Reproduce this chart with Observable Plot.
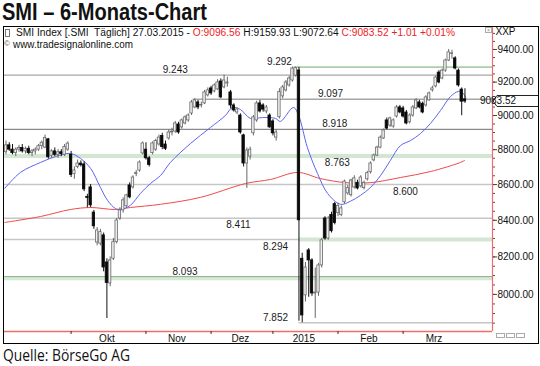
<!DOCTYPE html>
<html><head><meta charset="utf-8">
<script src="https://cdn.jsdelivr.net/npm/d3@7"></script>
<script src="https://cdn.jsdelivr.net/npm/@observablehq/plot@0.6"></script>
<style>
html,body{margin:0;padding:0}
body{width:540px;height:366px;background:#fff;position:relative;overflow:hidden;font-family:"Liberation Sans",Arial,sans-serif;color:#111}
.fit{position:absolute;white-space:nowrap;transform-origin:0 0}
#title{left:2px;top:1px;font-family:"Liberation Sans",Arial,sans-serif;font-weight:700;font-size:23.5px;line-height:23px}
#caption{left:3px;top:347px;font-family:"Open Sans";font-weight:400;font-size:16.5px;line-height:16.5px}
#h1{left:16px;top:27px;font-size:10px;line-height:12px}
#h2{left:13px;top:38.5px;font-size:10px;line-height:12px}
.red{color:#ee1c25}
#chart{position:absolute;left:0;top:26px}
#box{position:absolute;left:3px;top:26px;width:534px;height:316px;border:1px solid #000;pointer-events:none}
#ic1{position:absolute;left:5px;top:29px;width:3px;height:6px;border:1px solid #777}
#ic2{position:absolute;left:4px;top:39px;font-size:8px;line-height:9px;color:#555}
#xbox{position:absolute;left:485px;top:27px;width:5px;height:4px;border:1px solid #aaa;font-size:5px;line-height:4px;color:#888;text-align:center}
#scroll{position:absolute;left:496px;top:333px;font-size:0}
#scroll span{display:inline-block;width:7px;height:3px;border:1px solid #aaa;margin-right:1px}
</style></head>
<body>
<div id="title" class="fit">SMI – 6-Monats-Chart</div>
<div id="chart"></div>
<div id="box"></div>
<div id="ic1"></div>
<div id="ic2">©</div>
<div id="h1" class="fit">SMI Index [.SMI&nbsp; Täglich] 27.03.2015 - <span class="red">O:9096.56</span> H:9159.93 L:9072.64 <span class="red">C:9083.52 +1.01 +0.01%</span></div>
<div id="h2" class="fit">www.tradesignalonline.com</div>
<div id="xbox">×</div>
<div id="scroll"><span></span><span></span><span></span></div>
<div id="caption" class="fit">Quelle: BörseGo AG</div>
<script>
// ---- Daily OHLC, bar index 0 = early Sep 2014 ... 141 = 27.03.2015 ----
const opens = [8785,8825,8800,8780,8800,8810,8790,8805,8780,8790,8800,8820,8812,8860,8765,8790,8770,8785,8770,8800,
 8770,8660,8700,8720,8715,8530,8584,8443,8278,8272,8317,8170,8058,8190,8280,8410,8455,8478,8595,8584,8660,8680,8778,
 8800,8750,8780,8800,8830,8880,8830,8865,8900,8906,8947,8930,8953,8971,9012,9048,9078,9060,9072,9120,
 9162,9144,9156,9204,9168,9192,9138,9060,9018,9000,8883,8720,8760,8895,8971,9072,9060,9024,9000,
 8965,8870,8990,9114,9150,9180,9210,9240,9271,8190,7995,8235,8181,8005,8010,8154,8410,8300,8430,8490,
 8440,8430,8500,8550,8540,8584,8610,8590,8580,8630,8670,8738,8766,8812,8865,8971,8940,8935,8994,9048,
 9042,9018,8960,9000,9042,9078,9070,9060,9090,9150,9174,9258,9222,9270,9332,9372,9345,9270,9155,9096.56];
const highs = [8850,8840,8830,8810,8825,8830,8815,8820,8800,8810,8830,8850,8885,8865,8800,8810,8800,8800,8830,8845,
 8790,8700,8740,8735,8730,8545,8600,8455,8360,8350,8330,8190,8200,8300,8410,8470,8525,8545,8610,8650,8680,8735,8845,
 8840,8760,8845,8860,8885,8895,8850,8915,8925,8965,8960,8980,8998,9010,9090,9100,9090,9080,9150,9165,
 9175,9190,9215,9220,9243,9230,9150,9070,9045,9010,8890,8810,8815,9000,9085,9090,9070,9060,9010,
 8975,8915,9160,9180,9210,9235,9292,9292,9290,8220,8170,8245,8190,8140,8165,8300,8420,8420,8445,8500,
 8495,8480,8625,8595,8630,8650,8625,8650,8620,8675,8730,8775,8820,8880,8920,8985,8990,8980,9060,9060,
 9055,9030,9010,9060,9100,9090,9080,9118,9140,9175,9235,9270,9280,9340,9400,9395,9355,9280,9165,9159.93];
const lows = [8770,8790,8770,8760,8785,8780,8775,8770,8760,8770,8790,8800,8805,8745,8750,8760,8750,8760,8760,8790,
 8640,8630,8690,8700,8560,8470,8470,8350,8260,8260,8120,7874,8040,8180,8270,8400,8440,8470,8520,8575,8645,8670,8770,
 8740,8700,8770,8790,8820,8800,8795,8855,8880,8895,8890,8920,8945,8960,9000,9040,9035,9045,9065,9110,
 9120,9135,9150,9100,9160,9170,9040,9020,9005,8890,8700,8578,8740,8880,8960,9015,9020,9010,8925,
 8880,8850,8980,9100,9140,9170,9200,9230,7860,7852,7960,7985,7990,7875,7990,8140,8290,8290,8330,8375,
 8420,8420,8490,8540,8530,8575,8570,8580,8570,8620,8660,8730,8760,8805,8860,8915,8930,8925,8985,9010,
 8985,8945,8950,8990,9035,9040,9010,9050,9085,9140,9165,9190,9215,9260,9325,9340,9275,9170,8999,9072.64];
const closes = [8825,8800,8780,8800,8810,8790,8805,8780,8790,8800,8820,8840,8868,8756,8790,8770,8785,8775,8815,8835,
 8655,8680,8720,8710,8573,8525,8483,8367,8344,8335,8143,8060,8181,8280,8399,8455,8511,8539,8528,8640,8665,8726,8836,
 8750,8712,8836,8850,8870,8815,8805,8900,8905,8953,8900,8971,8989,9000,9078,9090,9048,9062,9138,9150,
 9132,9180,9198,9108,9210,9198,9060,9030,9036,8900,8720,8795,8800,8989,9072,9024,9035,9048,8930,
 8895,8900,9140,9168,9198,9222,9283,9285,8400,7890,8143,8181,8005,8010,8154,8290,8300,8410,8340,8385,
 8480,8466,8617,8580,8623,8635,8578,8640,8610,8665,8720,8766,8812,8870,8912,8923,8983,8971,9048,9018,
 8994,8953,9000,9048,9090,9048,9018,9108,9132,9162,9228,9198,9270,9332,9382,9376,9283,9180,9082.51,9083.52];

// ---- Moving averages (bar index, value) ----
const maShortBars = [-0.4,4.45,10.6,15.2,19.8,22.9,26.0,29.0,31.2,33.6,35.2,38.2,41.3,44.4,47.5,50.5,56.7,62.8,67.4,69.6,72.0,75.1,78.8,82.8,84.3,88.3,89.9,92.6,95.7,98.8,102.8,105.8,108.9,112.0,115.1,118.1,121.2,124.3,127.4,130.4,133.5,136.6,139.0,140.2,141.2];
const maShortValues = [8578,8669,8726,8760,8778,8749,8692,8584,8511,8466,8460,8483,8550,8606,8652,8726,8836,8929,9000,9048,9036,8983,8988,8983,8965,9048,9000,8812,8663,8550,8489,8506,8539,8584,8652,8738,8824,8853,8895,8953,9030,9114,9144,9138,9108];
const maLongBars = [-0.4,10.6,19.8,26.0,33.6,38.2,47.5,59.8,73.6,81.3,89.6,96.6,104.3,112.0,121.2,130.4,139.6,140.9];
const maLongValues = [8388,8421,8460,8471,8460,8471,8489,8528,8606,8629,8669,8634,8611,8611,8640,8674,8726,8738];

// ---- Horizontal levels ----
const levelValues    = [9292, 9243, 9097, 8918, 8763, 8600, 8411, 8294, 8294, 8093, 7852];
const levelStartBars = [88.5, null, 57.5, null, null, null, null, null, 90,   null, 90];
const levelKinds     = ["green","gray","gray","dark","zone","light","light","light","zone","strong","light"];
const labelValues = [9292, 9243, 9097, 8918, 8763, 8600, 8411, 8294, 8093, 7852];
const labelBars   = [84, 52, 99.7, 101, 101.8, 122.7, 71.4, 82.8, 55, 82.8];
const labelSides  = ["above","above","above","above","below","below","below","below","above","above"];

// ---- Axes ----
const priceTicks = [8000, 8200, 8400, 8600, 8800, 9000, 9200, 9400];
const minorStep = 50;
const monthStartBars = [20, 43, 63, 82, 102, 122];
const monthLabels = ["Okt", "Nov", "Dez", "2015", "Feb", "Mrz"];

// ---- build ----
const n = opens.length;
const candles = opens.map((o, i) => ({i, open: o, high: highs[i], low: lows[i], close: closes[i]}));
const isUp = d => d.close >= d.open;
const maShort = maShortBars.map((b, k) => ({i: b, v: maShortValues[k]}));
const maLong = maLongBars.map((b, k) => ({i: b, v: maLongValues[k]}));
const xDom = [-0.46, 149.46];
const yDom = [7807, 9537];
const levels = levelValues.map((v, k) => ({v, start: levelStartBars[k] ?? xDom[0], kind: levelKinds[k]}));
const kindColor = {green: "#a9cfa9", gray: "#a6a6a6", dark: "#8a8a8a", zone: "#d2e6d2", light: "#c6c6c6", strong: "#6f9f6f"};
const kindWidth = {green: 1.8, gray: 1.3, dark: 1.2, zone: 4, light: 1.5, strong: 1.3};
const deLocale = d3.formatLocale({decimal: ",", thousands: ".", grouping: [3], currency: ["", ""]});
const fmtLevel = deLocale.format(",");
const labels = labelValues.map((v, k) => ({v, i: labelBars[k], side: labelSides[k], text: fmtLevel(v)}));
const bounds = [...monthStartBars, n];
const months = monthLabels.map((t, k) => ({t, i: (bounds[k] + bounds[k + 1] - 1) / 2}));
const minorTicks = d3.range(Math.ceil(yDom[0] / minorStep) * minorStep, yDom[1], minorStep);
const last = candles[n - 1];

function priceTag(index, scales, values, dims) {
  const y = scales.y(last.close);
  const x0 = dims.width - dims.marginRight + 1;
  const g = d3.create("svg:g");
  g.append("path")
    .attr("d", `M${x0},${y}L${x0 + 4},${y - 5.5}H${x0 + 45}V${y + 5.5}H${x0 + 4}Z`)
    .attr("fill", "#fff").attr("stroke", "none");
  g.append("path")
    .attr("d", `M${x0},${y}L${x0 + 4},${y - 5.5}H${x0 + 45}M${x0},${y}L${x0 + 4},${y + 5.5}H${x0 + 45}`)
    .attr("fill", "none").attr("stroke", "#222").attr("stroke-width", 1);
  g.append("text").attr("x", x0 + 5).attr("y", y).attr("dy", "0.35em")
    .attr("font-size", 10).attr("fill", "#111").text(last.close.toFixed(2));
  return g.node();
}

const chart = Plot.plot({
  width: 540, height: 318,
  marginLeft: 4, marginRight: 48, marginTop: 1, marginBottom: 13,
  style: {fontFamily: "'Liberation Sans', Arial, sans-serif", fontSize: "10px", color: "#111", background: "transparent", overflow: "visible"},
  x: {type: "linear", domain: xDom, axis: null},
  y: {type: "log", domain: yDom, axis: null},
  marks: [
    Plot.ruleY(levels, {y: "v", x1: "start", x2: xDom[1], stroke: d => kindColor[d.kind], strokeWidth: d => kindWidth[d.kind]}),
    Plot.ruleY(levels.filter(d => d.kind === "strong"), {y: "v", x1: "start", x2: xDom[1], stroke: "#d6e9d6", strokeWidth: 3, dy: 2}),
    Plot.text(labels.filter(d => d.side === "above"), {x: "i", y: "v", text: "text", lineAnchor: "bottom", dy: -2, fontSize: 10, fill: "#1a1a1a"}),
    Plot.text(labels.filter(d => d.side === "below"), {x: "i", y: "v", text: "text", lineAnchor: "top", dy: 3, fontSize: 10, fill: "#1a1a1a"}),
    Plot.line(maLong, {x: "i", y: "v", stroke: "#ee4a4a", strokeWidth: 1, curve: "catmull-rom"}),
    Plot.line(maShort, {x: "i", y: "v", stroke: "#5b66ee", strokeWidth: 1, curve: "catmull-rom"}),
    Plot.ruleX(candles, {x: "i", y1: "low", y2: "high", stroke: d => isUp(d) ? "#666" : "#111", strokeWidth: 1}),
    Plot.rect(candles, {x1: d => d.i - 0.37, x2: d => d.i + 0.37, y1: "open", y2: "close",
      fill: d => isUp(d) ? "#f0f0f0" : "#0a0a0a", stroke: d => isUp(d) ? "#6a6a6a" : "#0a0a0a", strokeWidth: 0.8}),
    Plot.ruleX([xDom[1]], {stroke: "#f06b6b", strokeWidth: 1.2}),
    Plot.ruleY([yDom[0]], {stroke: "#f06b6b", strokeWidth: 1.5}),
    Plot.axisY(minorTicks, {anchor: "right", tickSize: 2, tickFormat: () => "", stroke: "#555"}),
    Plot.axisY(priceTicks, {anchor: "right", tickSize: 4, tickPadding: 1, tickFormat: d => d.toFixed(2), fontSize: 10, stroke: "#444"}),
    Plot.axisX(monthStartBars, {anchor: "bottom", tickSize: 3, tickFormat: () => "", stroke: "#333"}),
    Plot.text(months, {x: "i", text: "t", frameAnchor: "bottom", lineAnchor: "top", dy: 3, fontSize: 10, fill: "#111"}),
    Plot.text(["XXP"], {frameAnchor: "top-right", textAnchor: "start", lineAnchor: "top", dx: 3, dy: 0, fontSize: 10, fill: "#111"}),
    priceTag
  ]
});
document.getElementById("chart").appendChild(chart);

function fit(id, w) {
  const el = document.getElementById(id);
  const r = el.getBoundingClientRect().width;
  if (r > 0) el.style.transform = `scaleX(${w / r})`;
}
fit("title", 205);
fit("caption", 127);
fit("h1", 439);
fit("h2", 120);
</script>
</body></html>
